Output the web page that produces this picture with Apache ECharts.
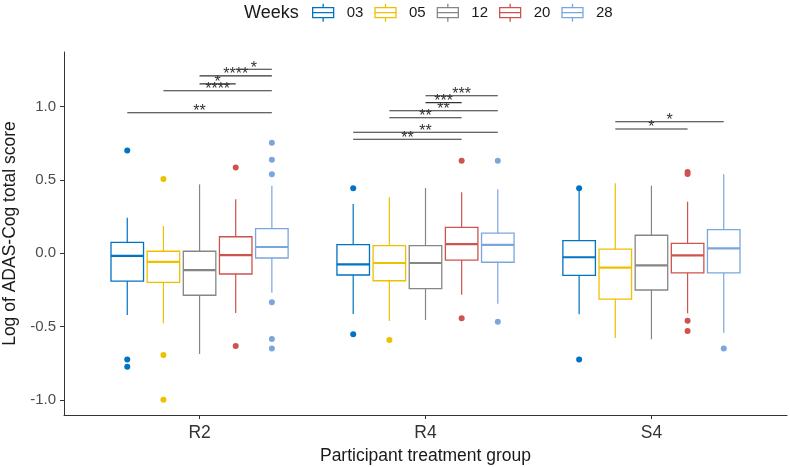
<!DOCTYPE html>
<html>
<head>
<meta charset="utf-8">
<script src="https://cdn.jsdelivr.net/npm/echarts@6/dist/echarts.min.js"></script>
<style>html,body{margin:0;padding:0;background:#fff;}#c{width:790px;height:467px;}</style>
</head>
<body>
<div id="c"></div>
<script>
const categories = ['R2', 'R4', 'S4'];
const weeks = ['03', '05', '12', '20', '28'];
const yTicks = [-1.0, -0.5, 0.0, 0.5, 1.0];
// [low whisker, q1, median, q3, high whisker] per group (R2, R4, S4)
const box03 = [[-0.421, -0.189, -0.018, 0.075, 0.243], [-0.414, -0.148, -0.075, 0.059, 0.336], [-0.416, -0.150, -0.027, 0.086, 0.433]];
const box05 = [[-0.477, -0.198, -0.059, 0.014, 0.186], [-0.461, -0.187, -0.066, 0.052, 0.382], [-0.577, -0.312, -0.098, 0.029, 0.477]];
const box12 = [[-0.686, -0.286, -0.114, 0.014, 0.470], [-0.455, -0.241, -0.066, 0.052, 0.445], [-0.586, -0.250, -0.082, 0.123, 0.461]];
const box20 = [[-0.407, -0.141, -0.012, 0.113, 0.368], [-0.282, -0.046, 0.063, 0.177, 0.416], [-0.409, -0.134, -0.014, 0.068, 0.352]];
const box28 = [[-0.268, -0.032, 0.043, 0.168, 0.461], [-0.343, -0.061, 0.057, 0.138, 0.436], [-0.541, -0.134, 0.034, 0.161, 0.538]];
// outliers: [group index, value]
const out03 = [[0, 0.700], [0, -0.723], [0, -0.773], [1, 0.443], [1, -0.552], [2, 0.443], [2, -0.723]];
const out05 = [[0, 0.506], [0, -0.693], [0, -0.998], [1, -0.591]];
const out12 = [];
const out20 = [[0, 0.584], [0, -0.632], [1, 0.631], [1, -0.443], [2, 0.554], [2, 0.541], [2, -0.459], [2, -0.530]];
const out28 = [[0, 0.754], [0, 0.638], [0, 0.538], [0, -0.334], [0, -0.584], [0, -0.648], [1, 0.631], [1, -0.466], [2, -0.648]];
// significance brackets: [group index, from week index, to week index, y]
const sigPos = [
  [0, 3, 4, 1.254], [0, 2, 4, 1.209], [0, 2, 3, 1.155], [0, 1, 4, 1.108], [0, 0, 4, 0.958],
  [1, 2, 4, 1.074], [1, 2, 3, 1.027], [1, 1, 4, 0.972], [1, 1, 3, 0.924], [1, 0, 4, 0.825], [1, 0, 3, 0.777],
  [2, 1, 4, 0.897], [2, 1, 3, 0.847]
];
const sigLabels = ['*', '****', '*', '****', '**', '***', '***', '**', '**', '**', '**', '*', '*'];

const colors = ['#0073C2', '#EFC000', '#868686', '#CD534C', '#7AA6DC'];
const boxes = [box03, box05, box12, box20, box28];
const outs = [out03, out05, out12, out20, out28];
const FONT = 'Liberation Sans, Arial, sans-serif';
const DODGE = 0.16, HALF = 0.072;

const chart = echarts.init(document.getElementById('c'), null, {renderer: 'canvas'});

function xPos(g, w) { return g + 1 + (w - 2) * DODGE; }

const series = [];
weeks.forEach(function (wk, w) {
  const col = colors[w];
  series.push({
    name: wk,
    type: 'custom',
    itemStyle: {color: col},
    encode: {x: 0, y: [1, 2, 3, 4, 5]},
    data: boxes[w].map(function (b, g) { return [g].concat(b); }),
    renderItem: function (params, api) {
      const g = api.value(0);
      const xc = xPos(g, w);
      const lo = api.coord([xc, api.value(1)]);
      const q1 = api.coord([xc, api.value(2)]);
      const md = api.coord([xc, api.value(3)]);
      const q3 = api.coord([xc, api.value(4)]);
      const hi = api.coord([xc, api.value(5)]);
      const left = api.coord([xc - HALF, 0])[0];
      const right = api.coord([xc + HALF, 0])[0];
      return {
        type: 'group',
        children: [
          {type: 'line', shape: {x1: lo[0], y1: lo[1], x2: q1[0], y2: q1[1]}, style: {stroke: col, lineWidth: 1.2}},
          {type: 'line', shape: {x1: q3[0], y1: q3[1], x2: hi[0], y2: hi[1]}, style: {stroke: col, lineWidth: 1.2}},
          {type: 'rect', shape: {x: left, y: q3[1], width: right - left, height: q1[1] - q3[1]}, style: {fill: '#fff', stroke: col, lineWidth: 1.3}},
          {type: 'line', shape: {x1: left, y1: md[1], x2: right, y2: md[1]}, style: {stroke: col, lineWidth: 2.2}}
        ]
      };
    }
  });
  series.push({
    name: wk,
    type: 'custom',
    itemStyle: {color: col},
    data: outs[w],
    renderItem: function (params, api) {
      const p = api.coord([xPos(api.value(0), w), api.value(1)]);
      return {type: 'circle', shape: {cx: p[0], cy: p[1], r: 3}, style: {fill: col}};
    }
  });
});

series.push({
  name: 'sig',
  type: 'custom',
  data: sigPos,
  z: 5,
  renderItem: function (params, api) {
    const g = api.value(0);
    const a = api.coord([xPos(g, api.value(1)), api.value(3)]);
    const b = api.coord([xPos(g, api.value(2)), api.value(3)]);
    return {
      type: 'group',
      children: [
        {type: 'line', shape: {x1: a[0], y1: a[1], x2: b[0], y2: b[1]}, style: {stroke: '#333', lineWidth: 1.1}},
        {type: 'text', x: (a[0] + b[0]) / 2, y: a[1] - 1, style: {text: sigLabels[params.dataIndex], fill: '#333', font: '16px ' + FONT, align: 'center', verticalAlign: 'middle'}}
      ]
    };
  }
});

chart.setOption({
  animation: false,
  backgroundColor: '#fff',
  title: {
    text: 'Weeks', left: 244, top: 4, padding: 0,
    textStyle: {fontSize: 18, fontWeight: 'normal', color: '#1a1a1a', fontFamily: FONT}
  },
  legend: {
    left: 312, top: 3, padding: 0, itemWidth: 21, itemHeight: 18, itemGap: 11,
    icon: 'path://M0,4L21,4L21,14L0,14Z M0,9L21,9 M10.5,0L10.5,4 M10.5,14L10.5,18',
    textStyle: {fontSize: 15, color: '#1a1a1a', fontFamily: FONT, padding: [0, 0, 0, 8]},
    data: weeks.map(function (wk, i) {
      return {name: wk, itemStyle: {color: '#fff', borderColor: colors[i], borderWidth: 1.3}};
    })
  },
  grid: {left: 64, right: 3, top: 52, bottom: 52, containLabel: false, outerBoundsMode: 'none'},
  xAxis: {
    type: 'value', min: 0.4, max: 3.6,
    name: 'Participant treatment group', nameLocation: 'middle', nameGap: 31,
    nameTextStyle: {fontSize: 17.5, color: '#1a1a1a', fontFamily: FONT},
    axisLine: {show: true, onZero: false, lineStyle: {color: '#333', width: 1}},
    axisTick: {show: true, length: 4, customValues: [1, 2, 3], lineStyle: {color: '#333'}},
    axisLabel: {customValues: [1, 2, 3], margin: 9, fontSize: 17.5, color: '#333', fontFamily: FONT,
      formatter: function (v) { return categories[Math.round(v) - 1]; }},
    splitLine: {show: false}
  },
  yAxis: {
    type: 'value', min: -1.102, max: 1.372,
    name: 'Log of ADAS-Cog total score', nameLocation: 'middle', nameGap: 45,
    nameTextStyle: {fontSize: 17.5, color: '#1a1a1a', fontFamily: FONT},
    axisLine: {show: true, onZero: false, lineStyle: {color: '#333', width: 1}},
    axisTick: {show: true, length: 4, customValues: yTicks, lineStyle: {color: '#333'}},
    axisLabel: {customValues: yTicks, margin: 8, fontSize: 15, color: '#4D4D4D', fontFamily: FONT,
      formatter: function (v) { return v.toFixed(1); }},
    splitLine: {show: false}
  },
  series: series
});
</script>
</body>
</html>
